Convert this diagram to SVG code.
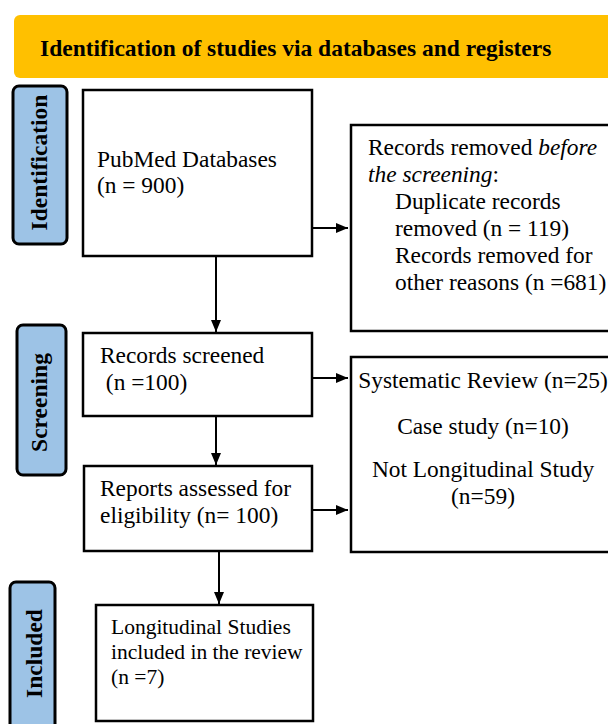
<svg xmlns="http://www.w3.org/2000/svg" width="608" height="724" viewBox="0 0 608 724">
<style>
.box{fill:#fff;stroke:#000;stroke-width:2.5}
.lab{fill:#9DC3E6;stroke:#000;stroke-width:3}
.t{font-family:"Liberation Serif","Times New Roman",serif;font-size:23.4px;fill:#000}
.ts{font-family:"Liberation Serif","Times New Roman",serif;font-size:21.5px;fill:#000}
.b{font-family:"Liberation Serif","Times New Roman",serif;font-weight:bold;fill:#000}
.c{stroke:#000;stroke-width:2;fill:none}
</style>
<defs>
<marker id="ah" viewBox="0 0 12 10" refX="12" refY="5" markerWidth="12" markerHeight="10" markerUnits="userSpaceOnUse" orient="auto">
<path d="M0,0 L12,5 L0,10 Z" fill="#000"/>
</marker>
</defs>
<rect width="608" height="724" fill="#fff"/>
<g id="header">
<rect x="14" y="15" width="610" height="63" rx="6" fill="#FFC000"/>
<text class="b" x="40" y="56" font-size="23.5">Identification of studies via databases and registers</text>
</g>
<g id="label-identification">
<rect class="lab" x="13" y="86" width="54" height="158" rx="6"/>
<text class="b" font-size="23.5" text-anchor="middle" transform="translate(47,162.5) rotate(-90)">Identification</text>
</g>
<g id="label-screening">
<rect class="lab" x="17" y="325" width="49" height="150" rx="6"/>
<text class="b" font-size="23.5" text-anchor="middle" transform="translate(47,402.5) rotate(-90)">Screening</text>
</g>
<g id="label-included">
<rect class="lab" x="10" y="582" width="45" height="160" rx="6"/>
<text class="b" font-size="23.5" text-anchor="middle" transform="translate(42,653.5) rotate(-90)">Included</text>
</g>
<g id="node-pubmed">
<rect class="box" x="83" y="90" width="229" height="166"/>
<text class="t" x="97" y="167">PubMed Databases</text>
<text class="t" x="97" y="193">(n = 900)</text>
</g>
<g id="node-removed">
<rect class="box" x="351" y="125" width="270" height="206"/>
<text class="t" x="368" y="155">Records removed <tspan font-style="italic">before</tspan></text>
<text class="t" x="368" y="182"><tspan font-style="italic">the screening</tspan>:</text>
<text class="t" x="395" y="209">Duplicate records</text>
<text class="t" x="395" y="236">removed (n = 119)</text>
<text class="t" x="395" y="263">Records removed for</text>
<text class="t" x="395" y="290">other reasons (n =681)</text>
</g>
<g id="node-screened">
<rect class="box" x="83" y="333" width="229" height="83"/>
<text class="t" x="100" y="363">Records screened</text>
<text class="t" x="100" y="390" xml:space="preserve"> (n =100)</text>
</g>
<g id="node-reports">
<rect class="box" x="84" y="466" width="228" height="85"/>
<text class="t" x="100" y="496">Reports assessed for</text>
<text class="t" x="100" y="523">eligibility (n= 100)</text>
</g>
<g id="node-excluded">
<rect class="box" x="351" y="357" width="270" height="195"/>
<text class="t" x="483" y="388" text-anchor="middle">Systematic Review (n=25)</text>
<text class="t" x="483" y="434" text-anchor="middle">Case study (n=10)</text>
<text class="t" x="483" y="477" text-anchor="middle">Not Longitudinal Study</text>
<text class="t" x="483" y="504" text-anchor="middle">(n=59)</text>
</g>
<g id="node-included">
<rect class="box" x="96" y="605" width="217" height="116"/>
<text class="ts" x="111" y="634">Longitudinal Studies</text>
<text class="ts" x="111" y="659">included in the review</text>
<text class="ts" x="111" y="684">(n =7)</text>
</g>
<g id="connectors">
<line class="c" x1="313" y1="228" x2="348" y2="228" marker-end="url(#ah)"/>
<line class="c" x1="216" y1="257" x2="216" y2="332" marker-end="url(#ah)"/>
<line class="c" x1="216" y1="417" x2="216" y2="465" marker-end="url(#ah)"/>
<line class="c" x1="219" y1="552" x2="219" y2="604" marker-end="url(#ah)"/>
<line class="c" x1="313" y1="378" x2="348" y2="378" marker-end="url(#ah)"/>
<line class="c" x1="313" y1="510" x2="348" y2="510" marker-end="url(#ah)"/>
</g>
</svg>
